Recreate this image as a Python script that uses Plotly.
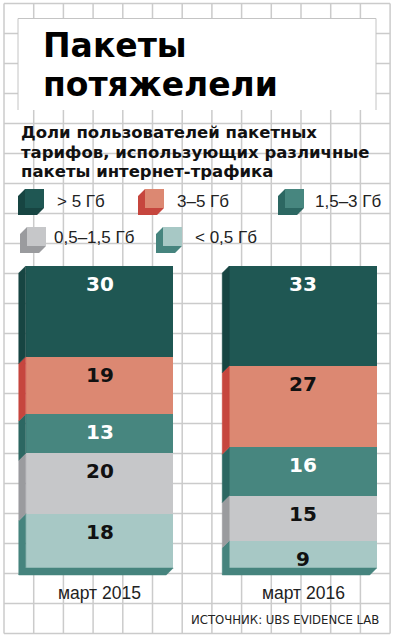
import plotly.graph_objects as go

# ---------------- data ----------------
categories = ["март 2015", "март 2016"]
series_names = ["< 0,5 Гб", "0,5–1,5 Гб", "1,5–3 Гб", "3–5 Гб", "> 5 Гб"]  # bottom -> top
share_lt_0_5 = [18, 9]
share_0_5_1_5 = [20, 15]
share_1_5_3 = [13, 16]
share_3_5 = [19, 27]
share_gt_5 = [30, 33]

title_lines = ["Пакеты", "потяжелели"]
subtitle_lines = ["Доли пользователей пакетных",
                  "тарифов, использующих различные",
                  "пакеты интернет-трафика"]
source_text = "ИСТОЧНИК: UBS EVIDENCE LAB"

# ---------------- style ----------------
front_colors = ["#a7c8c5", "#c6c7c9", "#47867f", "#dc8872", "#1f5753"]
side_colors = ["#46847e", "#9a9b9e", "#2c6762", "#c6463e", "#174542"]
label_colors = ["#111111", "#111111", "#ffffff", "#111111", "#ffffff"]

W, H = 397, 640
X0_PX, X_UNIT = 99.5, 203.5      # pixel of x=0, pixels per x unit
Y0_PX, Y_UNIT = 568.0, 3.02      # pixel of y=0, pixels per y unit
BAR_W = 147.5 / X_UNIT
DEPTH_PX = 7
DX = DEPTH_PX / X_UNIT
DY = DEPTH_PX / Y_UNIT
GRID_COLOR = "#cbcbcb"
COND_FONT = "Liberation Sans Narrow, DejaVu Sans Condensed, Roboto Condensed, Liberation Sans, Arial"
REG_FONT = "Liberation Sans, Arial"
HEAVY_FONT = "DejaVu Sans, Arial"


def px(x):
    return x / W


def py(y):
    return 1 - y / H


series = [share_lt_0_5, share_0_5_1_5, share_1_5_3, share_3_5, share_gt_5]
xpos = list(range(len(categories)))

fig = go.Figure()

# cumulative bottoms
bottoms = []
run = [0] * len(categories)
for vals in series:
    bottoms.append(list(run))
    run = [r + v for r, v in zip(run, vals)]

# side faces (3D effect), computed from data
for si, vals in enumerate(series):
    xs, ys = [], []
    for ci, x in enumerate(xpos):
        xl = x - BAR_W / 2
        b = bottoms[si][ci]
        t = b + vals[ci]
        xs += [xl, xl - DX, xl - DX, xl, xl, None]
        ys += [t, t - DY, b - DY, b, t, None]
        if si == 0:
            xr = x + BAR_W / 2
            xs += [xl, xl - DX, xr - DX, xr, xl, None]
            ys += [0, -DY, -DY, 0, 0, None]
    fig.add_trace(go.Scatter(x=xs, y=ys, mode="lines", fill="toself",
                             fillcolor=side_colors[si], line=dict(width=0.5, color=side_colors[si]),
                             hoverinfo="skip", showlegend=False))

# front faces
for si, vals in enumerate(series):
    fig.add_trace(go.Bar(x=xpos, y=vals, width=BAR_W, name=series_names[si],
                         marker=dict(color=front_colors[si], line=dict(width=0)),
                         showlegend=False))

annotations = []
# value labels
for si, vals in enumerate(series):
    for ci, x in enumerate(xpos):
        annotations.append(dict(x=x, y=bottoms[si][ci] + vals[ci], xref="x", yref="y",
                                text=str(vals[ci]), showarrow=False, yanchor="middle",
                                yshift=-18,
                                font=dict(family="DejaVu Sans, Arial", size=20,
                                          color=label_colors[si], weight="bold")))

# category labels
for ci, x in enumerate(xpos):
    annotations.append(dict(x=x, y=py(593), xref="x", yref="paper", text=categories[ci],
                            showarrow=False, yanchor="middle", xanchor="center",
                            font=dict(family=REG_FONT, size=17.5, color="#222222")))

# title
annotations.append(dict(x=px(41), y=py(45), xref="paper", yref="paper", text=title_lines[0],
                        showarrow=False, xanchor="left", yanchor="middle",
                        font=dict(family=HEAVY_FONT, size=33, color="#000000", weight="bold")))
annotations.append(dict(x=px(41), y=py(84.5), xref="paper", yref="paper", text=title_lines[1],
                        showarrow=False, xanchor="left", yanchor="middle",
                        font=dict(family=HEAVY_FONT, size=33, color="#000000", weight="bold")))
# subtitle
for i, (line, yc) in enumerate(zip(subtitle_lines, [132, 152, 171.5])):
    annotations.append(dict(x=px(19), y=py(yc), xref="paper", yref="paper", text=line,
                            showarrow=False, xanchor="left", yanchor="middle",
                            font=dict(family="DejaVu Sans, Arial", size=16.5, color="#111111",
                                      weight="bold")))

# source
annotations.append(dict(x=px(381), y=py(619), xref="paper", yref="paper", text=source_text,
                        showarrow=False, xanchor="right", yanchor="middle",
                        font=dict(family=COND_FONT, size=13, color="#222222")))

shapes = []
# background grid
gx = [4 + 29.7 * k for k in range(14)]
gy = [3.5 + 30 * k for k in range(22)]
for x in gx:
    shapes.append(dict(type="line", xref="paper", yref="paper", x0=px(x), x1=px(x),
                       y0=py(gy[0]), y1=py(gy[-1]), line=dict(color=GRID_COLOR, width=1.5),
                       layer="below"))
for y in gy:
    shapes.append(dict(type="line", xref="paper", yref="paper", x0=px(gx[0]), x1=px(gx[-1]),
                       y0=py(y), y1=py(y), line=dict(color=GRID_COLOR, width=1.5),
                       layer="below"))
# title box
shapes.append(dict(type="rect", xref="paper", yref="paper", x0=px(18), x1=px(376),
                   y0=py(110), y1=py(18.5), fillcolor="#ffffff", line=dict(width=0),
                   layer="below"))
shapes.append(dict(type="path", xref="paper", yref="paper",
                   path=f"M{px(18)},{py(110)} L{px(18)},{py(18.5)} L{px(376)},{py(18.5)} L{px(376)},{py(110)}",
                   line=dict(color="#c4c4c4", width=1), layer="below"))

# legend (3D swatches + labels)
legend_pos = {  # series index -> (front left px, front top px, text x px, text y px)
    4: (25, 189, 55, 201.5),
    3: (145, 189, 175, 201.5),
    2: (285, 189, 313, 201.5),
    1: (27, 227, 52, 238),
    0: (163, 227, 193, 238),
}
S = 19
for si, (fx, fy, tx, ty) in legend_pos.items():
    side = (f"M{px(fx)},{py(fy)} L{px(fx - DEPTH_PX)},{py(fy + DEPTH_PX)} "
            f"L{px(fx - DEPTH_PX)},{py(fy + S + DEPTH_PX)} L{px(fx + S - DEPTH_PX)},{py(fy + S + DEPTH_PX)} "
            f"L{px(fx + S)},{py(fy + S)} L{px(fx)},{py(fy + S)} Z")
    shapes.append(dict(type="path", xref="paper", yref="paper", path=side,
                       fillcolor=side_colors[si], line=dict(width=0), layer="above"))
    shapes.append(dict(type="rect", xref="paper", yref="paper", x0=px(fx), x1=px(fx + S),
                       y0=py(fy + S), y1=py(fy), fillcolor=front_colors[si], line=dict(width=0),
                       layer="above"))
    annotations.append(dict(x=px(tx), y=py(ty), xref="paper", yref="paper", text=series_names[si],
                            showarrow=False, xanchor="left", yanchor="middle",
                            font=dict(family=REG_FONT, size=17, color="#222222")))

fig.update_layout(
    width=W, height=H,
    margin=dict(l=0, r=0, t=0, b=0),
    paper_bgcolor="#ffffff",
    plot_bgcolor="rgba(0,0,0,0)",
    barmode="stack",
    bargap=0,
    showlegend=False,
    xaxis=dict(range=[(0 - X0_PX) / X_UNIT, (W - X0_PX) / X_UNIT], visible=False, fixedrange=True),
    yaxis=dict(range=[(Y0_PX - H) / Y_UNIT, Y0_PX / Y_UNIT], visible=False, fixedrange=True),
    shapes=shapes,
    annotations=annotations,
)

fig.write_html("out.html", config={"displayModeBar": False},
               post_script="document.body.style.margin='0';document.body.style.overflow='hidden';")
